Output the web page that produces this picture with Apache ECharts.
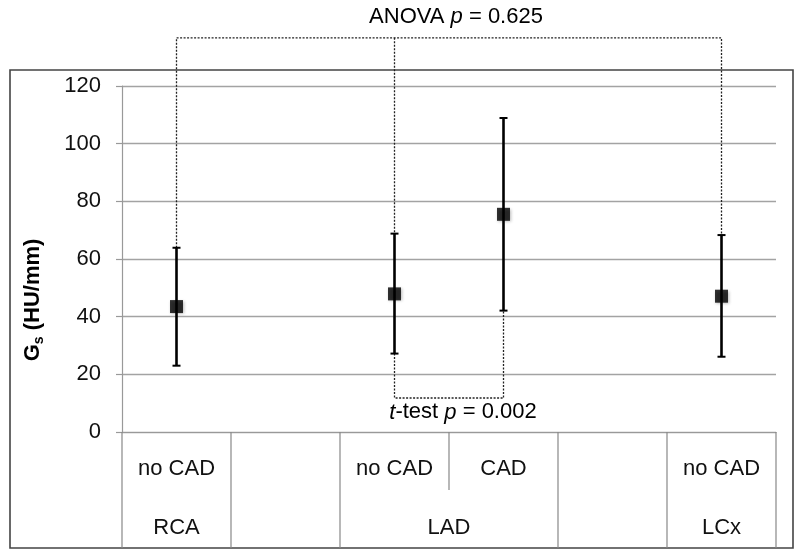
<!DOCTYPE html>
<html><head><meta charset="utf-8">
<script src="https://cdn.jsdelivr.net/npm/echarts@6/dist/echarts.min.js"></script>
<style>html,body{margin:0;padding:0;background:#fff}#c{width:800px;height:556px}</style>
</head><body><div id="c"></div>
<script>
// ---- data ----
const categories = ['no CAD', '', 'no CAD', 'CAD', '', 'no CAD'];
const groupNames = ['RCA', 'LAD', 'LCx'];
const groupFrom = [0, 2, 5];
const groupTo = [0, 3, 5];
const pointIndex = [0, 2, 3, 5];
const means = [43.5, 47.9, 75.5, 47.1];
const upper = [63.9, 68.8, 108.9, 68.3];
const lower = [23.0, 27.2, 42.1, 26.1];
const yMin = 0, yMax = 120, yStep = 20;
const anovaLevel = 136.7;   // bracket height (data units, above plot)
const anovaLabelLevel = 144;
const ttestLevel = 11.8;
const ttestLabelLevel = 6.8;
const anovaP = '0.625';
const ttestP = '0.002';
const shortDivider = 3; // boundary index with half-height divider

const FONT = '"Liberation Sans", Arial, sans-serif';
const FS = 22;
const chart = echarts.init(document.getElementById('c'));

const meanData = pointIndex.map((c, i) => [c, means[i]]);
const errData = pointIndex.map((c, i) => [c, lower[i], upper[i]]);
const anovaOuter = [[pointIndex[0], upper[0]], [pointIndex[0], anovaLevel], [pointIndex[3], anovaLevel], [pointIndex[3], upper[3]]];
const anovaMid = [[pointIndex[1], anovaLevel], [pointIndex[1], upper[1]]];
const ttest = [[pointIndex[1], lower[1]], [pointIndex[1], ttestLevel], [pointIndex[2], ttestLevel], [pointIndex[2], lower[2]]];

const dashStyle = { color: '#222', width: 1.3, type: [2, 1.5] };

function renderErr(params, api) {
  const x = api.value(0);
  const lo = api.coord([x, api.value(1)]);
  const hi = api.coord([x, api.value(2)]);
  const cw = 4;
  return {
    type: 'group', children: [
      { type: 'line', shape: { x1: lo[0], y1: lo[1], x2: hi[0], y2: hi[1] }, style: { stroke: '#000', lineWidth: 2.6 } },
      { type: 'line', shape: { x1: lo[0] - cw, y1: lo[1], x2: lo[0] + cw, y2: lo[1] }, style: { stroke: '#000', lineWidth: 2 } },
      { type: 'line', shape: { x1: hi[0] - cw, y1: hi[1], x2: hi[0] + cw, y2: hi[1] }, style: { stroke: '#000', lineWidth: 2 } }
    ]
  };
}

chart.setOption({
  animation: false,
  grid: { left: 122, right: 24, top: 86, bottom: 124 },
  xAxis: {
    type: 'category', data: categories, boundaryGap: true,
    axisLine: { show: true, lineStyle: { color: '#999', width: 1.2 } },
    axisTick: { show: false },
    axisLabel: { interval: 0, margin: 26, fontFamily: FONT, fontSize: FS, color: '#111' },
    splitLine: { show: false }
  },
  yAxis: {
    type: 'value', min: yMin, max: yMax, interval: yStep,
    axisLine: { show: true, lineStyle: { color: '#999', width: 1.2 } },
    axisTick: { show: true, length: 6, lineStyle: { color: '#999', width: 1.2 } },
    axisLabel: { margin: 21, fontFamily: FONT, fontSize: FS, color: '#111' },
    splitLine: { show: true, lineStyle: { color: '#a3a3a3', width: 1.4 } }
  },
  series: [
    { type: 'line', data: anovaOuter, clip: false, symbol: 'none', lineStyle: dashStyle, z: 1, silent: true },
    { type: 'line', data: anovaMid, clip: false, symbol: 'none', lineStyle: dashStyle, z: 1, silent: true },
    { type: 'line', data: ttest, clip: false, symbol: 'none', lineStyle: dashStyle, z: 1, silent: true },
    { type: 'custom', data: errData, renderItem: renderErr, z: 3, clip: false },
    { type: 'scatter', data: meanData, symbol: 'rect', symbolSize: 13, z: 4,
      itemStyle: { color: '#000', shadowColor: 'rgba(0,0,0,0.35)', shadowBlur: 3, shadowOffsetX: 1, shadowOffsetY: 1 } }
  ]
});

// ---- table, frame and annotations placed through the axes ----
const px = c => chart.convertToPixel({ xAxisIndex: 0 }, c);
const py = v => chart.convertToPixel({ yAxisIndex: 0 }, v);
const band = px(1) - px(0);
const y0 = py(yMin);
const frame = { x: 10, y: 70, w: 783, h: 478 };
const tableBottom = frame.y + frame.h;
const g = [];
g.push({ type: 'rect', shape: { x: frame.x, y: frame.y, width: frame.w, height: frame.h }, style: { fill: 'none', stroke: '#444', lineWidth: 1.6 }, z: 0 });
for (let b = 0; b <= categories.length; b++) {
  const x = px(0) - band / 2 + b * band;
  const yEnd = b === shortDivider ? y0 + (tableBottom - y0) / 2 : tableBottom;
  g.push({ type: 'line', shape: { x1: x, y1: y0, x2: x, y2: yEnd }, style: { stroke: '#888', lineWidth: 1.2 }, z: 1 });
}
for (let i = 0; i < groupNames.length; i++) {
  const cx = (px(groupFrom[i]) + px(groupTo[i])) / 2;
  g.push({ type: 'text', x: cx, y: tableBottom - 20, style: { text: groupNames[i], font: FS + 'px ' + FONT, fill: '#111', align: 'center', verticalAlign: 'middle' }, z: 5 });
}
const richP = {
  n: { fontFamily: FONT, fontSize: FS, color: '#111' },
  i: { fontFamily: FONT, fontSize: FS, fontStyle: 'italic', color: '#111' }
};
g.push({ type: 'text', x: (px(pointIndex[0]) + px(pointIndex[3])) / 2 + 7, y: py(anovaLabelLevel),
  style: { text: '{n|ANOVA }{i|p}{n| = ' + anovaP + '}', rich: richP, align: 'center', verticalAlign: 'middle' }, z: 5 });
g.push({ type: 'text', x: (px(pointIndex[1]) + px(pointIndex[2])) / 2 + 14, y: py(ttestLabelLevel),
  style: { text: '{i|t}{n|-test }{i|p}{n| = ' + ttestP + '}', rich: richP, align: 'center', verticalAlign: 'middle' }, z: 5 });
g.push({ type: 'text', x: 33, y: 300, rotation: Math.PI / 2,
  style: { text: '{b|G}{s|s}{b| (HU/mm)}', align: 'center', verticalAlign: 'middle',
    rich: { b: { fontFamily: FONT, fontSize: FS, fontWeight: 'bold', color: '#111', verticalAlign: 'middle', lineHeight: 26 },
            s: { fontFamily: FONT, fontSize: 14, fontWeight: 'bold', color: '#111', verticalAlign: 'bottom', lineHeight: 26, padding: [10, 0, 0, 0] } } }, z: 5 });
chart.setOption({ graphic: g });
</script></body></html>
